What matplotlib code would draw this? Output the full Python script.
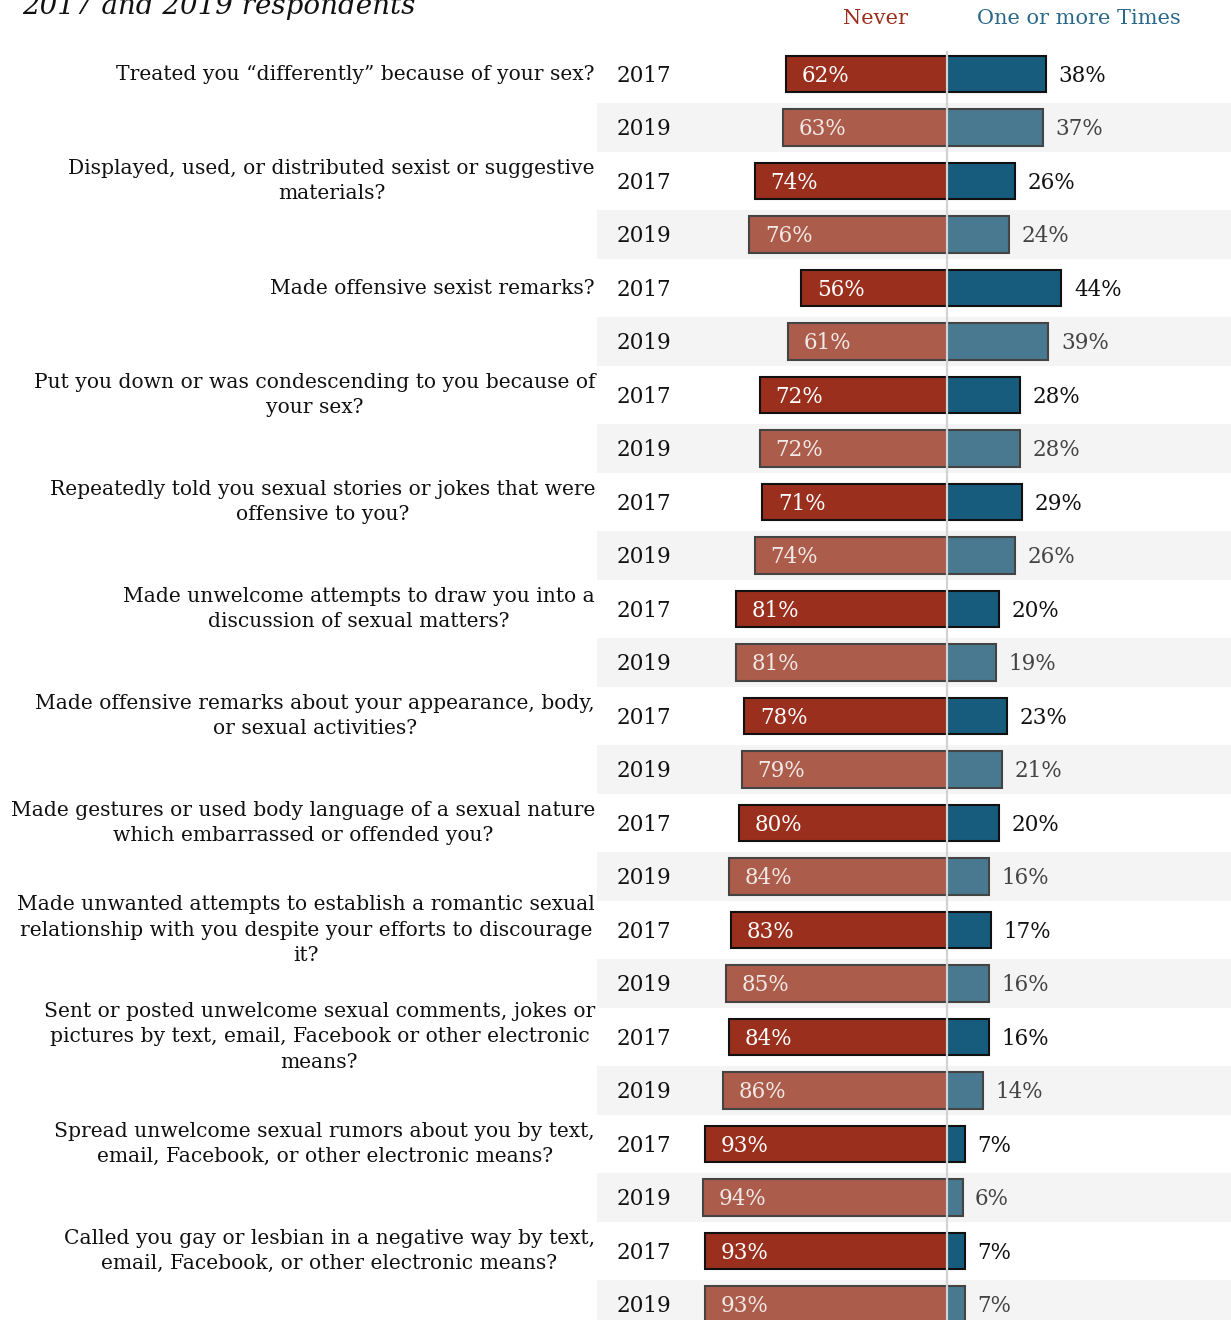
import matplotlib
matplotlib.use("Agg")
import matplotlib.pyplot as plt

questions = [
    "Treated you \u201cdifferently\u201d because of your sex?",
    "Displayed, used, or distributed sexist or suggestive\nmaterials?",
    "Made offensive sexist remarks?",
    "Put you down or was condescending to you because of\nyour sex?",
    "Repeatedly told you sexual stories or jokes that were\noffensive to you?",
    "Made unwelcome attempts to draw you into a\ndiscussion of sexual matters?",
    "Made offensive remarks about your appearance, body,\nor sexual activities?",
    "Made gestures or used body language of a sexual nature\nwhich embarrassed or offended you?",
    "Made unwanted attempts to establish a romantic sexual\nrelationship with you despite your efforts to discourage\nit?",
    "Sent or posted unwelcome sexual comments, jokes or\npictures by text, email, Facebook or other electronic\nmeans?",
    "Spread unwelcome sexual rumors about you by text,\nemail, Facebook, or other electronic means?",
    "Called you gay or lesbian in a negative way by text,\nemail, Facebook, or other electronic means?",
]
years = ["2017", "2019"]
never_2017 = [62, 74, 56, 72, 71, 81, 78, 80, 83, 84, 93, 93]
never_2019 = [63, 76, 61, 72, 74, 81, 79, 84, 85, 86, 94, 93]
once_2017 = [38, 26, 44, 28, 29, 20, 23, 20, 17, 16, 7, 7]
once_2019 = [37, 24, 39, 28, 26, 19, 21, 16, 16, 14, 6, 7]

W, H = 1231, 1320
fig = plt.figure(figsize=(W / 100, H / 100), dpi=100)
ax = fig.add_axes([0, 0, 1, 1])

CX = 947          # pixel position of the zero line
PX = 2.6          # pixels per percentage point
ROW0, STEP = 74, 53.5
ax.set_xlim(-CX / PX, (W - CX) / PX)
ax.set_ylim((H - ROW0) / STEP, -ROW0 / STEP)
ax.axis("off")

FONT = "DejaVu Serif"
styles = {
    "2017": dict(nc="#9b2f1d", oc="#175c7d", ec="#111111", inner="white", outer="#111111"),
    "2019": dict(nc="#ab5c4b", oc="#487990", ec="#444444", inner="#f2e8e5", outer="#444444"),
}

band_x0 = 597 / W
for qi, q in enumerate(questions):
    r17 = 2 * qi
    r19 = 2 * qi + 1
    ax.axhspan(r19 - 0.465, r19 + 0.465, xmin=band_x0, xmax=1, color="#f4f4f4", zorder=0, lw=0)
    ax.text(-(CX - 595) / PX, r17, q, ha="right", va="center", multialignment="center",
            fontsize=14.6, family=FONT, color="#111111", linespacing=1.42)
    for row, yr, nv, ov in [(r17, "2017", never_2017[qi], once_2017[qi]),
                            (r19, "2019", never_2019[qi], once_2019[qi])]:
        st = styles[yr]
        ax.barh(row, -nv, height=0.69, color=st["nc"], edgecolor=st["ec"], lw=1.5, zorder=2)
        ax.barh(row, ov, height=0.69, color=st["oc"], edgecolor=st["ec"], lw=1.5, zorder=2)
        ax.text(-(CX - 617) / PX, row + 0.03, yr, ha="left", va="center", fontsize=15.5,
                family=FONT, color="#111111")
        ax.text(-nv + 6, row + 0.03, f"{nv}%", ha="left", va="center", fontsize=15.5,
                family=FONT, color=st["inner"], zorder=3)
        ax.text(ov + 4.8, row + 0.03, f"{ov}%", ha="left", va="center", fontsize=15.5,
                family=FONT, color=st["outer"], zorder=3)

ax.axvline(0, ymin=0, ymax=1 - 52 / H, color="#d2d2d2", lw=1.6, zorder=4)

ax.text(-(CX - 876) / PX, -(ROW0 - 18) / STEP, "Never", ha="center", va="center",
        fontsize=15, family=FONT, color="#9b2f1d")
ax.text((1079 - CX) / PX, -(ROW0 - 18) / STEP, "One or more Times", ha="center", va="center",
        fontsize=15, family=FONT, color="#2a6888")
ax.text(-(CX - 22) / PX, -(ROW0 - 14) / STEP, "2017 and 2019 respondents", ha="left",
        va="baseline", fontsize=20, family=FONT, style="italic", color="#111111")

fig.savefig("out.png", dpi=100)
